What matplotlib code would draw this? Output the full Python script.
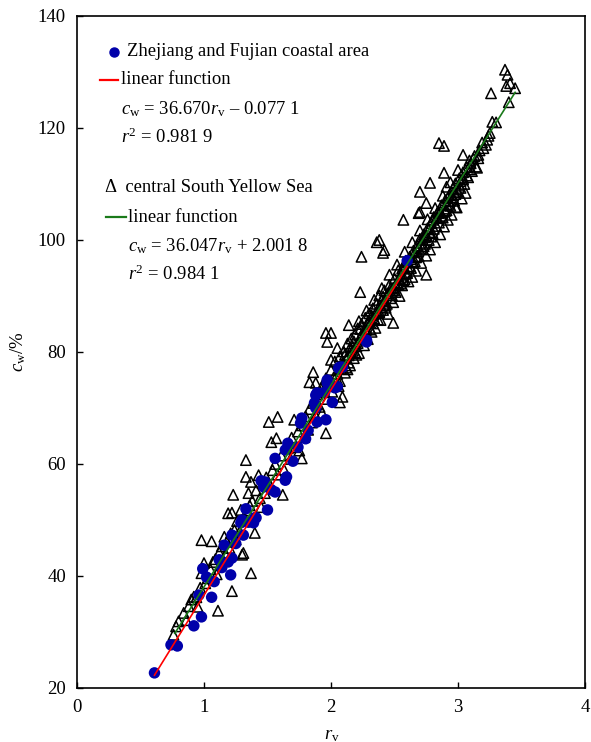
import matplotlib
matplotlib.use("Agg")
import matplotlib.pyplot as plt
from matplotlib.lines import Line2D
import numpy as np

plt.rcParams['font.family'] = ['Liberation Serif', 'DejaVu Serif']
plt.rcParams['mathtext.fontset'] = 'custom'
plt.rcParams['mathtext.rm'] = 'Liberation Serif'
plt.rcParams['mathtext.it'] = 'Liberation Serif:italic'

# Zhejiang and Fujian coastal area (blue circles)
zf_rv = [0.61, 0.74, 0.79, 0.92, 0.98, 0.96, 1.06, 0.99, 1.02, 1.12, 1.16, 1.21, 1.19, 1.22,
         1.22, 1.29, 1.31, 1.35, 1.41, 1.39, 1.30, 1.40, 1.47, 1.45, 1.50, 1.53, 1.56, 1.48,
         1.56, 1.64, 1.65, 1.64, 1.66, 1.74, 1.76, 1.77, 1.82, 1.88, 1.87, 1.89, 1.88, 1.89,
         1.95, 1.97, 1.97, 2.03, 2.01, 2.05, 1.96, 2.07, 2.09, 2.06, 2.28, 2.28, 2.60, 1.08,
         1.14, 1.25, 1.33, 1.70, 1.80]
zf_cw = [22.7, 27.7, 27.5, 31.1, 32.7, 36.6, 36.2, 41.3, 39.8, 42.9, 45.5, 40.2, 42.5, 43.2,
         47.3, 49.5, 47.3, 49.6, 50.4, 49.5, 50.0, 50.4, 55.9, 57.0, 51.8, 55.4, 55.0, 56.8,
         61.0, 57.1, 57.7, 62.5, 63.7, 63.0, 67.3, 68.2, 66.0, 70.0, 70.9, 67.5, 72.3, 72.7,
         72.8, 75.0, 74.5, 73.6, 71.0, 73.8, 67.9, 77.3, 77.3, 77.1, 81.8, 82.1, 96.3, 39.0,
         41.5, 45.8, 52.0, 60.5, 64.5]

# central South Yellow Sea (open triangles)
sy_rv = [
    # lower part
    0.76, 0.78, 0.80, 0.84, 0.86, 0.88, 0.90, 0.92, 0.94, 0.95, 0.97, 0.98, 1.00, 1.01, 1.03,
    1.05, 1.06, 0.98, 1.07, 1.09, 1.10, 1.11, 1.12, 1.13, 1.14, 1.16, 1.17, 1.18, 1.19, 1.20,
    1.21, 1.22, 1.22, 1.23, 1.24, 1.25, 1.26, 1.28, 1.29, 1.30, 1.31, 1.32, 1.33, 1.33, 1.34,
    1.35, 1.36, 1.37, 1.37, 1.38, 1.40, 1.41, 1.43, 1.44, 1.45, 1.46, 1.48, 1.49, 1.51, 1.52,
    1.53, 1.54, 1.56, 1.57, 1.58, 1.62, 1.71, 1.77, 1.96, 2.07, 2.09, 1.86, 1.83, 1.88,
    # core band
    1.58, 1.61, 1.63, 1.66, 1.68, 1.69, 1.72, 1.74, 1.75, 1.77, 1.79, 1.80, 1.82, 1.83, 1.85,
    1.86, 1.88, 1.89, 1.91, 1.92, 1.93, 1.95, 1.96, 1.97, 1.98, 2.00, 2.01, 2.02, 2.03, 2.05,
    2.06, 2.07, 2.08, 2.10, 2.11, 2.12, 2.13, 2.14, 2.15, 2.16, 2.17, 2.18, 2.19, 2.20, 2.21,
    2.22, 2.23, 2.24, 2.25, 2.26, 2.27, 2.28, 2.29, 2.30, 2.31, 2.32, 2.33, 2.34, 2.35, 2.36,
    2.37, 2.38, 2.39, 2.40, 2.41, 2.42, 2.43, 2.44, 2.45, 2.46, 2.47, 2.48, 2.49, 2.50, 2.51,
    2.52, 2.53, 2.54, 2.55, 2.56, 2.57, 2.58, 2.59, 2.60, 2.61, 2.62, 2.63, 2.64, 2.65, 2.66,
    2.67, 2.68, 2.69, 2.70, 2.71, 2.72, 2.73, 2.74, 2.75, 2.76, 2.77, 2.78, 2.79, 2.80, 2.81,
    2.82, 2.83, 2.84, 2.85, 2.86, 2.87, 2.88, 2.89, 2.90, 2.91, 2.92, 2.93, 2.94, 2.95, 2.96,
    2.97, 2.98, 2.99, 3.00, 3.01, 3.02, 3.03, 3.04, 3.05, 3.06, 3.07, 3.08, 3.10, 3.12, 3.14,
    3.17,
    2.05, 2.09, 2.12, 2.15, 2.18, 2.21, 2.24, 2.27, 2.30, 2.33, 2.36, 2.39, 2.42, 2.45, 2.48,
    2.51, 2.54, 2.57, 2.60, 2.63, 2.66, 2.69, 2.72, 2.75, 2.78, 2.81, 2.84, 2.87, 2.90, 2.93,
    2.96, 2.99, 3.02,
    2.07, 2.13, 2.19, 2.25, 2.31, 2.37, 2.43, 2.49, 2.55, 2.61, 2.67, 2.73, 2.79, 2.85, 2.91,
    2.97, 2.22, 2.28, 2.34, 2.40, 2.46, 2.52, 2.58, 2.64, 2.70, 2.76, 2.82, 2.88, 2.94, 3.00,
    2.11, 2.14, 2.17, 2.20, 2.23, 2.26, 2.29, 2.32, 2.35, 2.38, 2.41, 2.44, 2.47, 2.50, 2.53,
    2.56, 2.59, 2.62, 2.65, 2.68, 2.71, 2.74, 2.77, 2.80, 2.83, 2.86, 2.89, 2.92, 2.95, 2.98,
    3.01, 3.04, 3.07, 3.09, 3.11, 3.13, 3.16, 3.19, 3.22, 3.24,
    # upper outliers
    1.96, 2.00, 1.97, 2.05, 2.00, 2.14, 2.23, 2.24, 2.36, 2.41, 2.42, 2.38, 2.49, 2.57, 2.75,
    2.70, 2.70, 2.69, 2.75, 2.78, 2.85, 2.89, 2.89, 2.91, 2.98, 3.04, 3.04, 3.10, 3.15, 3.16,
    3.20, 3.23, 3.25, 3.27, 3.30, 3.26, 3.37, 3.39, 3.38, 3.41, 3.45, 3.40]
sy_cw = [
    29.5, 31.0, 31.9, 33.4, 32.1, 34.6, 35.8, 36.3, 36.2, 34.5, 37.9, 40.5, 42.3, 38.7, 39.6,
    41.2, 46.2, 46.4, 42.5, 43.0, 40.3, 33.8, 44.2, 42.0, 45.3, 47.0, 43.9, 46.1, 51.2, 45.0,
    47.6, 37.3, 51.3, 54.5, 48.2, 46.5, 49.8, 47.9, 51.8, 43.8, 44.1, 50.2, 57.7, 60.7, 51.7,
    54.8, 52.6, 56.8, 40.5, 53.4, 47.7, 55.3, 58.0, 53.9, 52.3, 56.6, 54.8, 57.6, 67.5, 56.2,
    63.9, 58.9, 60.0, 64.6, 68.4, 54.5, 67.9, 61.0, 65.5, 71.0, 72.0, 76.4, 74.6, 74.5,
    58.1, 61.5, 59.0, 62.8, 60.9, 64.7, 63.0, 65.8, 62.4, 66.9, 64.8, 68.5, 66.1, 69.8, 67.4,
    70.9, 68.6, 72.4, 70.2, 73.5, 69.1, 72.8, 75.3, 71.6, 74.6, 76.8, 72.9, 75.4, 78.3, 76.1,
    73.9, 79.2, 77.0, 80.1, 76.3, 78.8, 81.5, 79.4, 77.6, 82.4, 80.2, 78.9, 83.1, 81.0, 84.2,
    79.8, 82.6, 85.0, 83.4, 81.2, 86.1, 84.0, 82.3, 86.9, 85.2, 83.6, 87.8, 86.0, 84.3, 88.6,
    86.9, 90.1, 85.7, 89.2, 87.5, 91.0, 88.3, 90.2, 86.8, 92.0, 89.6, 91.3, 88.9, 93.1, 90.7,
    92.4, 94.6, 90.0, 93.8, 91.9, 95.2, 93.0, 96.3, 94.1, 92.6, 97.0, 95.0, 93.4, 98.1, 96.2,
    94.5, 99.0, 97.1, 100.2, 95.9, 98.4, 101.0, 99.3, 97.2, 102.1, 100.0, 98.3, 103.0, 101.2, 104.1,
    99.6, 102.5, 105.0, 103.1, 101.0, 106.2, 104.0, 102.4, 107.1, 105.3, 103.6, 108.0, 106.1, 104.5, 109.2,
    107.0, 110.1, 105.8, 108.6, 111.0, 109.3, 107.4, 112.1, 110.0, 108.4, 113.0, 111.2, 112.6, 114.5, 113.1,
    116.0,
    75.0, 78.0, 77.2, 80.8, 81.9, 81.6, 83.0, 83.9, 85.5, 85.1, 87.2, 88.0, 89.0, 90.5, 90.1,
    92.0, 93.1, 92.8, 96.0, 96.6, 97.8, 98.6, 100.1, 100.8, 101.4, 102.0, 103.9, 104.3, 105.2, 106.9,
    107.6, 109.0, 110.5,
    74.8, 76.9, 79.9, 82.2, 84.0, 85.8, 87.9, 91.5, 92.2, 94.9, 96.9, 98.9, 100.6, 104.8, 106.4,
    108.5, 85.5, 87.4, 89.3, 91.4, 93.8, 95.6, 97.9, 99.6, 101.7, 103.7, 105.7, 107.9, 110.3, 112.5,
    79.5, 78.1, 81.0, 79.5, 84.1, 82.9, 85.4, 86.5, 86.9, 87.1, 89.9, 88.6, 91.4, 91.0, 92.1,
    94.9, 94.0, 95.3, 96.0, 98.0, 99.5, 100.5, 101.9, 103.6, 104.0, 105.1, 105.6, 107.5, 108.0, 108.2,
    109.7, 110.8, 111.5, 114.2, 112.3, 115.0, 115.2, 117.4, 117.0, 118.6,
    83.4, 83.4, 81.8, 80.7, 78.6, 84.8, 90.7, 97.0, 99.6, 97.7, 98.2, 100.0, 85.2, 103.6, 93.8,
    108.6, 105.0, 104.8, 106.6, 110.2, 117.3, 116.8, 112.0, 109.5, 105.9, 115.2, 111.1, 113.7, 112.9, 114.6,
    116.4, 117.9, 119.1, 121.1, 121.0, 126.2, 130.4, 129.5, 127.5, 128.0, 127.1, 124.6]

# fitted linear functions
zf_slope, zf_icpt = 36.670, -0.0771
sy_slope, sy_icpt = 36.047, 2.0018
zf_range = [0.61, 2.60]
sy_range = [0.77, 3.45]

x_ticks = [0, 1, 2, 3, 4]
y_ticks = [20, 40, 60, 80, 100, 120, 140]

W, H = 591, 742
fig = plt.figure(figsize=(W / 100, H / 100), dpi=100)
ax = fig.add_axes([77 / W, 1 - 688 / H, (585 - 77) / W, (688 - 16) / H])

ax.scatter(sy_rv, sy_cw, marker='^', s=56, facecolors='none', edgecolors='black',
           linewidths=1.1, zorder=2)
ax.scatter(zf_rv, zf_cw, marker='o', s=68, color='#0000AA', edgecolors='none', zorder=3)

xr = np.array(zf_range)
ax.plot(xr, zf_slope * xr + zf_icpt, color='#FF0000', lw=1.2, zorder=5)
xs = np.array(sy_range)
ax.plot(xs, sy_slope * xs + sy_icpt, color='#1A7A1A', lw=1.2, zorder=4)

ax.set_xlim(0, 4)
ax.set_ylim(20, 140)
ax.set_xticks(x_ticks)
ax.set_yticks(y_ticks)
ax.tick_params(direction='in', length=4, width=1, labelsize=13.5, pad=8)
for sp in ax.spines.values():
    sp.set_linewidth(1.2)

fig.text(18 / W, 1 - 352 / H, r'$c_{\mathrm{w}}$/%', rotation=90, ha='center', va='center',
         fontsize=13.5)
fig.text(332 / W, 1 - 735 / H, r'$r_{\mathrm{v}}$', ha='center', va='center', fontsize=13.5)

def fx(px):
    return px / W

def fy(py):
    return 1 - py / H

fs = 13.4
fig.add_artist(Line2D([fx(114)], [fy(52)], marker='o', markersize=6.5, color='#0000AA',
                      transform=fig.transFigure, linestyle='none'))
fig.text(fx(127), fy(52), 'Zhejiang and Fujian coastal area', va='center', fontsize=fs)
fig.add_artist(Line2D([fx(100), fx(118)], [fy(80), fy(80)], color='#FF0000', lw=1.6,
                      transform=fig.transFigure))
fig.text(fx(121), fy(80), 'linear function', va='center', fontsize=fs)
fig.text(fx(121), fy(109), r'$c_{\mathrm{w}}$ = 36.670$r_{\mathrm{v}}$ – 0.077 1', va='center', fontsize=fs)
fig.text(fx(121), fy(137), r'$r^{2}$ = 0.981 9', va='center', fontsize=fs)

fig.text(fx(105), fy(188), 'Δ  central South Yellow Sea', va='center', fontsize=fs)
fig.add_artist(Line2D([fx(106), fx(126)], [fy(217), fy(217)], color='#1A7A1A', lw=1.6,
                      transform=fig.transFigure))
fig.text(fx(128), fy(217), 'linear function', va='center', fontsize=fs)
fig.text(fx(128), fy(246), r'$c_{\mathrm{w}}$ = 36.047$r_{\mathrm{v}}$ + 2.001 8', va='center', fontsize=fs)
fig.text(fx(128), fy(274), r'$r^{2}$ = 0.984 1', va='center', fontsize=fs)

fig.savefig('out.png', dpi=100)
